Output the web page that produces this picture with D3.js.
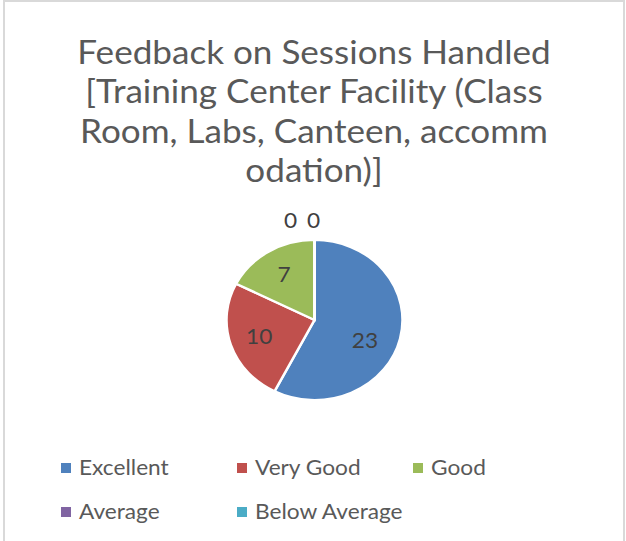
<!DOCTYPE html>
<html>
<head>
<meta charset="utf-8">
<script src="https://cdn.jsdelivr.net/npm/d3@7"></script>
<style>
  body { margin: 0; background: #fff; }
  svg { display: block; }
</style>
</head>
<body>
<div class="chart"></div>
<script>
// chart data
const categories = ["Excellent", "Very Good", "Good", "Average", "Below Average"]
const values = [23, 10, 7, 0, 0]
const colors = ["#4f81bd", "#c0504d", "#9bbb59", "#8064a2", "#4bacc6"]
const titleLines = ["Feedback on Sessions Handled", "[Training Center Facility (Class", "Room, Labs, Canteen, accomm", "odation)]"]

const w = 626
const h = 541
const font = "Lato, sans-serif"
const stretch = 1.08

const svg = d3.select(".chart")
  .append("svg")
  .attr("width", w)
  .attr("height", h)

// border of the chart area
svg.append("rect")
  .attr("x", 4)
  .attr("y", 1)
  .attr("width", 620)
  .attr("height", h + 10)
  .attr("fill", "none")
  .attr("stroke", "#d9d9d9")
  .attr("stroke-width", 2)

// title (Calibri-like, slightly stretched sideways like the reference)
svg.append("g")
  .attr("transform", "translate(314,0) scale(" + stretch + ",1)")
  .selectAll("text")
  .data(titleLines)
  .enter()
  .append("text")
  .attr("x", 0)
  .attr("y", (d, i) => 64 + i * 39.5)
  .attr("text-anchor", "middle")
  .attr("fill", "#595959")
  .style("font-family", font)
  .style("font-size", "32.5px")
  .text(d => d)

// pie
const r = 88
const pie = d3.pie().sort(null).value(d => d.value)
const arcs = pie(categories.map((c, i) => ({ name: c, value: values[i] })))
const arc = d3.arc().innerRadius(0).outerRadius(r)

const g = svg.append("g")
  .attr("transform", "translate(314.5,320) scale(1,0.91)")

g.selectAll("path")
  .data(arcs)
  .enter()
  .append("path")
  .attr("d", arc)
  .attr("fill", (d, i) => colors[i])
  .attr("stroke", "#fff")
  .attr("stroke-width", 2.5)

// data labels
const labelArc = d3.arc().innerRadius(r * 0.66).outerRadius(r * 0.66)
const outerArc = d3.arc().innerRadius(r + 21).outerRadius(r + 21)
const labels = svg.append("g")
  .attr("transform", "translate(314.5,320)")

labels.selectAll("text")
  .data(arcs)
  .enter()
  .append("text")
  .attr("transform", d => {
    let x, y
    if (d.value === 0) {
      x = outerArc.centroid(d)[0] - 24 + (d.index - 3) * 23
      y = outerArc.centroid(d)[1] * 0.91
    } else {
      x = labelArc.centroid(d)[0] - (d.index === 0 ? 6 : 0)
      y = labelArc.centroid(d)[1] * 0.91 + (d.index === 0 ? 8 : 0)
    }
    return "translate(" + x + "," + y + ") scale(" + stretch + ",1)"
  })
  .attr("dy", "0.35em")
  .attr("text-anchor", "middle")
  .attr("fill", "#404040")
  .style("font-family", font)
  .style("font-size", "21px")
  .text(d => d.value)

// legend
const legend = svg.append("g")
  .selectAll("g")
  .data(categories)
  .enter()
  .append("g")
  .attr("transform", (d, i) => "translate(" + (61 + (i % 3) * 176) + "," + (468 + Math.floor(i / 3) * 44) + ")")

legend.append("rect")
  .attr("x", 0)
  .attr("y", -5)
  .attr("width", 10)
  .attr("height", 10)
  .attr("fill", (d, i) => colors[i])

legend.append("text")
  .attr("transform", "translate(18,0) scale(" + stretch + ",1)")
  .attr("dy", "0.35em")
  .attr("fill", "#595959")
  .style("font-family", font)
  .style("font-size", "21px")
  .text(d => d)
</script>
</body>
</html>
